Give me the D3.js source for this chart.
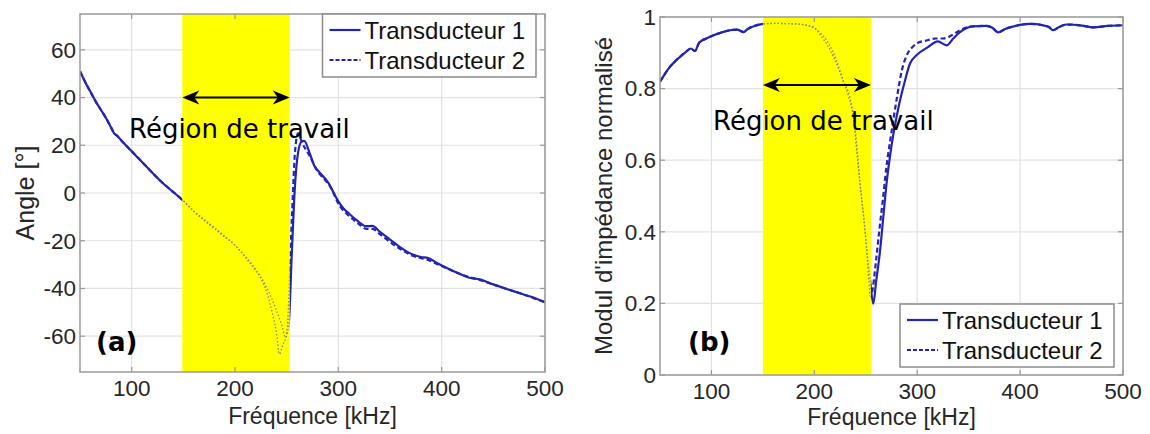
<!DOCTYPE html>
<html><head><meta charset="utf-8">
<script src="https://cdn.jsdelivr.net/npm/d3@7"></script>
<style>body{margin:0;background:#fff}svg{display:block}</style>
</head><body>
<svg id="c" width="1150" height="434"></svg>
<script>
// ---------- DATA ----------
const xTicks = [100, 200, 300, 400, 500];
const angleTicks = [-60, -40, -20, 0, 20, 40, 60];
const modTicks = [0, 0.2, 0.4, 0.6, 0.8, 1];
const modTickLabels = ["0", "0.2", "0.4", "0.6", "0.8", "1"];
const seriesNames = ["Transducteur 1", "Transducteur 2"];
const regionLabel = "Région de travail";
const bandA = [149, 253];
const bandB = [150, 255];

// Panel (a): angle [°]
const freqA1 = [50,55,60,65,70,75,80,83,86,90,100,110,120,130,140,150,160,170,180,190,200,210,220,230,240,245,249,252,255,258,261,264.5,267,272,277,281,290,300,305,310,318,327,333,340,350,360,372,380,387,395,405,415,427,437,450,460,470,480,490,500];
const angleT1 = [51,46.5,42.5,38.5,35,31.5,27.5,25,24,22,17.5,13,8.5,4.2,0.5,-3.3,-7.5,-11,-14.5,-18,-22,-26.5,-32,-39,-49,-55,-60.5,-55,-25,2.8,16.8,21.6,21.8,17,11.2,9,4.5,-3.5,-6.5,-8.5,-11.5,-13.9,-13.8,-16.2,-19.5,-22.8,-25.8,-26.8,-27.3,-29.2,-31.4,-33.4,-35.5,-36.2,-38.3,-39.8,-41.2,-42.6,-44,-45.8];
const freqA2 = [50,55,60,65,70,75,80,83,86,90,100,110,120,130,140,150,160,170,180,190,198,210,220,224,231,237,240,243,246,250,255,258,261,265,272.6,279,292,301.6,310,320,327,333,340,350,360,372,385,400,420,440,460,480,500];
const angleT2 = [51,46.5,42.5,38.5,35,31.5,27.5,25,24,22,17.5,13,8.5,4.2,0.5,-3.3,-7.7,-11.5,-15,-18.5,-21,-27,-32.5,-35,-42,-52,-58,-67.5,-64,-58.6,-11,16.8,25,21,15.3,9.8,2.8,-5.6,-9.5,-13,-15,-15,-17.2,-20.5,-23.5,-26.3,-27.8,-30.6,-34.3,-36.9,-39.8,-42.6,-45.8];

// Panel (b): normalised impedance modulus
const freqB1 = [50,55,60,65,70,75,80,84,88,95,102,110,118,125,131,136,141,149,160,180,192,200,206,212,217,222,228,235,238,241,244,248,251,254,257.3,260,264,267,270,275,282,287,293,300,310,320,328.6,335,341.6,354,367,373,378.8,385,390,400,410,422,428,432,438,445,460,471,485,500];
const modT1 = [0.819,0.842,0.862,0.877,0.89,0.902,0.912,0.905,0.928,0.94,0.949,0.957,0.963,0.965,0.958,0.968,0.974,0.98,0.982,0.981,0.977,0.968,0.955,0.935,0.91,0.875,0.823,0.77,0.72,0.65,0.55,0.44,0.35,0.27,0.199,0.26,0.35,0.44,0.53,0.64,0.75,0.81,0.87,0.895,0.915,0.932,0.921,0.94,0.958,0.974,0.975,0.97,0.957,0.966,0.971,0.978,0.981,0.977,0.972,0.963,0.972,0.979,0.976,0.971,0.975,0.977];
const freqB2 = [50,55,60,65,70,75,80,84,88,95,102,110,118,125,131,136,141,149,160,180,192,200,207,213,220,228,233,238,241,244.4,248,250.9,253,254.5,256,260,263,267,270,274,280,285,291,295,300,310,318,325,333,341.6,354,367,373,378.8,385,390,400,410,422,428,432,438,445,460,471,485,500];
const modT2 = [0.819,0.842,0.862,0.877,0.89,0.902,0.912,0.905,0.928,0.94,0.949,0.957,0.963,0.965,0.958,0.968,0.974,0.98,0.982,0.981,0.977,0.97,0.945,0.92,0.88,0.822,0.78,0.72,0.63,0.534,0.44,0.348,0.26,0.22,0.23,0.32,0.4,0.5,0.58,0.66,0.77,0.85,0.9,0.915,0.927,0.935,0.94,0.94,0.948,0.963,0.974,0.975,0.97,0.957,0.966,0.971,0.978,0.981,0.977,0.972,0.963,0.972,0.979,0.976,0.971,0.975,0.977];

// ---------- DRAW ----------
const svg = d3.select("#c");
const BLUE = "#2323b4";
const FONT = "'Liberation Sans', Arial, Helvetica, sans-serif";
const DV = "'DejaVu Sans', Verdana, sans-serif";

function panel(cfg) {
  const x = d3.scaleLinear().domain([50, 500]).range(cfg.xr);
  const y = d3.scaleLinear().domain(cfg.yd).range(cfg.yr);
  const g = svg.append("g");
  const [x0, x1] = cfg.xr, [y0, y1] = cfg.yr; // y0 bottom, y1 top

  // grid
  g.append("g").selectAll("line").data(cfg.yTicks).join("line")
    .attr("x1", x0).attr("x2", x1).attr("y1", d => y(d)).attr("y2", d => y(d))
    .attr("stroke", "#e2e2e2").attr("stroke-width", 1.2);
  g.append("g").selectAll("line").data(xTicks).join("line")
    .attr("y1", y0).attr("y2", y1).attr("x1", d => x(d)).attr("x2", d => x(d))
    .attr("stroke", "#e2e2e2").attr("stroke-width", 1.2);

  const clipId = "clip" + cfg.id;
  svg.append("clipPath").attr("id", clipId).append("rect")
    .attr("x", x0).attr("y", y1).attr("width", x1 - x0).attr("height", y0 - y1);
  const bandClip = "band" + cfg.id;
  svg.append("clipPath").attr("id", bandClip).append("rect")
    .attr("x", x(cfg.band[0])).attr("y", y1).attr("width", x(cfg.band[1]) - x(cfg.band[0])).attr("height", y0 - y1);

  const line = (fx, fy) => d3.line().x((d, i) => x(fx[i])).y(d => y(d)).curve(d3.curveMonotoneX);
  const cg = g.append("g").attr("clip-path", `url(#${clipId})`);
  cg.append("path").attr("d", line(cfg.f2, cfg.v2)(cfg.v2)).attr("fill", "none")
    .attr("stroke", BLUE).attr("stroke-width", 2.2).attr("stroke-dasharray", "5,3");
  cg.append("path").attr("d", line(cfg.f1, cfg.v1)(cfg.v1)).attr("fill", "none")
    .attr("stroke", BLUE).attr("stroke-width", 2.2);

  // yellow band
  g.append("rect").attr("x", x(cfg.band[0])).attr("y", y1)
    .attr("width", x(cfg.band[1]) - x(cfg.band[0])).attr("height", y0 - y1)
    .attr("fill", "#ffff00");
  const bg = g.append("g").attr("clip-path", `url(#${bandClip})`);
  [[cfg.f1, cfg.v1], [cfg.f2, cfg.v2]].forEach(([f, v]) => {
    bg.append("path").attr("d", line(f, v)(v)).attr("fill", "none")
      .attr("stroke", "#8a8a70").attr("stroke-width", 1.3).attr("stroke-dasharray", "1.5,2");
  });

  // box + ticks
  g.append("rect").attr("x", x0).attr("y", y1).attr("width", x1 - x0).attr("height", y0 - y1)
    .attr("fill", "none").attr("stroke", "#9a9a9a").attr("stroke-width", 1.5);
  const tk = g.append("g").attr("stroke", "#9a9a9a").attr("stroke-width", 1.2);
  cfg.yTicks.forEach(t => {
    tk.append("line").attr("x1", x0).attr("x2", x0 + 5).attr("y1", y(t)).attr("y2", y(t));
    tk.append("line").attr("x1", x1).attr("x2", x1 - 5).attr("y1", y(t)).attr("y2", y(t));
  });
  xTicks.forEach(t => {
    tk.append("line").attr("y1", y0).attr("y2", y0 - 5).attr("x1", x(t)).attr("x2", x(t));
    tk.append("line").attr("y1", y1).attr("y2", y1 + 5).attr("x1", x(t)).attr("x2", x(t));
  });

  // tick labels
  g.append("g").selectAll("text").data(cfg.yTicks).join("text")
    .attr("x", x0 - 4).attr("y", d => y(d)).attr("dy", "0.35em").attr("text-anchor", "end")
    .attr("font-family", FONT).attr("font-size", 22.5).attr("fill", "#262626")
    .text((d, i) => cfg.yLabels[i]);
  g.append("g").selectAll("text").data(xTicks).join("text")
    .attr("x", d => x(d)).attr("y", y0 + 24).attr("text-anchor", "middle")
    .attr("font-family", FONT).attr("font-size", 22.5).attr("fill", "#262626")
    .text(d => d);

  // axis titles
  g.append("text").attr("x", (x0 + x1) / 2).attr("y", cfg.xTitleY).attr("text-anchor", "middle")
    .attr("font-family", FONT).attr("font-size", 23).attr("fill", "#262626").text("Fréquence [kHz]");
  g.append("text").attr("transform", `translate(${cfg.yTitleX},${cfg.yTitleCy}) rotate(-90)`)
    .attr("text-anchor", "middle").attr("font-family", FONT).attr("font-size", cfg.yTitleSize)
    .attr("fill", "#262626").text(cfg.yTitle);

  // arrow
  const ay = y(cfg.arrowY), ax0 = x(cfg.band[0]), ax1 = x(cfg.band[1]);
  g.append("line").attr("x1", ax0 + 4).attr("x2", ax1 - 4).attr("y1", ay).attr("y2", ay)
    .attr("stroke", "#000").attr("stroke-width", 2);
  const head = (tip, dir) => `M${tip},${ay} L${tip + dir * 17},${ay - 7} L${tip + dir * 12},${ay} L${tip + dir * 17},${ay + 7} Z`;
  g.append("path").attr("d", head(ax0, 1)).attr("fill", "#000");
  g.append("path").attr("d", head(ax1, -1)).attr("fill", "#000");
  g.append("text").attr("x", cfg.textX).attr("y", cfg.textY)
    .attr("font-family", DV).attr("font-size", 26).attr("fill", "#000").text(regionLabel);

  // panel letter
  g.append("text").attr("x", cfg.letterX).attr("y", 351)
    .attr("font-family", DV).attr("font-weight", "bold").attr("font-size", 26)
    .attr("fill", "#000").text(cfg.letter);

  // legend
  const L = cfg.leg;
  g.append("rect").attr("x", L.x).attr("y", L.y).attr("width", L.w).attr("height", L.h)
    .attr("fill", "#fff").attr("stroke", "#8c8c8c").attr("stroke-width", 1.5);
  seriesNames.forEach((nm, i) => {
    const ly = L.y + 16 + i * 30;
    g.append("line").attr("x1", L.x + 7).attr("x2", L.x + 38).attr("y1", ly).attr("y2", ly)
      .attr("stroke", BLUE).attr("stroke-width", 2.2).attr("stroke-dasharray", i ? "4,2" : null);
    g.append("text").attr("x", L.x + 42).attr("y", ly + 9)
      .attr("font-family", FONT).attr("font-size", 24).attr("fill", "#111").text(nm);
  });
}

panel({
  id: "a", xr: [80, 545], yr: [372, 14], yd: [-75, 75],
  yTicks: angleTicks, yLabels: angleTicks.map(String),
  f1: freqA1, v1: angleT1, f2: freqA2, v2: angleT2, band: bandA,
  arrowY: 40, textX: 129, textY: 138, letter: "(a)", letterX: 96,
  xTitleY: 424, yTitleX: 34, yTitleCy: 193, yTitle: "Angle [°]", yTitleSize: 25,
  leg: {x: 322.5, y: 14, w: 213.5, h: 63}
});
panel({
  id: "b", xr: [660, 1123], yr: [375, 17], yd: [0, 1],
  yTicks: modTicks, yLabels: modTickLabels,
  f1: freqB1, v1: modT1, f2: freqB2, v2: modT2, band: bandB,
  arrowY: 0.81, textX: 713, textY: 129.5, letter: "(b)", letterX: 688,
  xTitleY: 425, yTitleX: 612, yTitleCy: 196, yTitle: "Modul d'impédance normalisé", yTitleSize: 24,
  leg: {x: 900, y: 304, w: 214, h: 63}
});
</script>
</body></html>
